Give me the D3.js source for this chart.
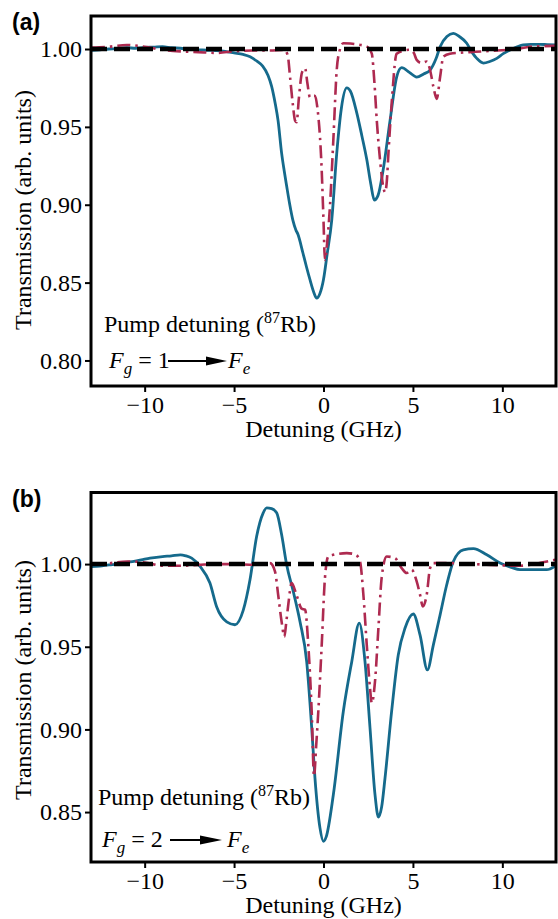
<!DOCTYPE html>
<html>
<head>
<meta charset="utf-8">
<script src="https://cdn.jsdelivr.net/npm/d3@7"></script>
</head>
<body style="margin:0;background:#fff">
<svg id="chart" width="558" height="919" style="display:block"></svg>
<script>
// ---------------- DATA ----------------
const xTicks = [-10, -5, 0, 5, 10];
const aYTicks = [0.80, 0.85, 0.90, 0.95, 1.00];
const bYTicks = [0.85, 0.90, 0.95, 1.00];
const referenceLevel = [1.00];

// Panel (a): Fg = 1 -> Fe
const aBlueX = [-12.95,-12.5,-12,-11.5,-11,-10.5,-10,-9.5,-9,-8.5,-8,-7.5,-7,-6.5,-6,-5.5,-5.0,-4.5,-4.1,-3.7,-3.4,-3.1,-2.9,-2.7,-2.54,-2.34,-2.2,-2.06,-1.9,-1.71,-1.55,-1.43,-1.15,-0.95,-0.76,-0.55,-0.38,-0.2,0.0,0.2,0.46,0.74,1.0,1.3,1.5,1.86,2.15,2.42,2.65,2.84,3.05,3.33,3.72,4.09,4.37,4.8,5.21,5.6,5.96,6.3,6.52,6.9,7.26,7.6,8.01,8.3,8.57,8.94,9.3,9.69,10.05,10.43,10.8,11.17,11.6,12.11,12.5,12.95];
const aBlueY = [0.9992,0.9995,1.0000,1.0003,1.0008,1.0005,1.0010,1.0012,1.0015,1.0008,1.0005,0.9998,0.9995,0.9992,0.9990,0.9985,0.9975,0.9965,0.9950,0.9920,0.9890,0.9830,0.9760,0.9650,0.9540,0.9330,0.9220,0.9120,0.9010,0.8900,0.8840,0.8810,0.8690,0.8600,0.8520,0.8440,0.8400,0.8430,0.8520,0.8680,0.8900,0.9330,0.9620,0.9750,0.9730,0.9590,0.9440,0.9290,0.9130,0.9030,0.9060,0.9220,0.9540,0.9820,0.9880,0.9850,0.9820,0.9840,0.9865,0.9940,1.0015,1.0080,1.0100,1.0080,1.0037,0.9980,0.9940,0.9910,0.9920,0.9940,0.9970,0.9994,1.0012,1.0026,1.0030,1.0030,1.0028,1.0026];
const aRedX = [-12.95,-12,-11,-10,-9,-8,-7,-6,-5,-4,-3,-2.2,-2.0,-1.87,-1.72,-1.59,-1.5,-1.38,-1.2,-1.03,-0.9,-0.76,-0.6,-0.48,-0.35,-0.1,0.0,0.08,0.2,0.36,0.55,0.74,0.9,1.11,1.5,1.86,2.42,2.70,2.85,2.98,3.16,3.34,3.44,3.54,3.63,3.81,4.09,4.46,4.84,5.05,5.21,5.49,5.77,5.96,6.14,6.33,6.52,6.70,7.07,8.19,9.69,10.8,11.55,12.95];
const aRedY = [1.0010,1.0015,1.0026,1.0015,0.9995,0.9985,0.9980,0.9975,0.9985,0.9990,0.9990,0.9994,0.9960,0.9820,0.9650,0.9540,0.9530,0.9680,0.9850,0.9876,0.9780,0.9690,0.9700,0.9700,0.9630,0.9220,0.8900,0.8645,0.8750,0.8990,0.9416,0.9865,0.9990,1.0037,1.0035,1.0030,1.0015,0.9970,0.9780,0.9540,0.9290,0.9116,0.9080,0.9150,0.9330,0.9650,0.9970,0.9989,0.9995,0.9975,0.9930,0.9910,0.9920,0.9865,0.9760,0.9680,0.9820,0.9950,0.9970,0.9980,0.9990,1.0000,1.0015,1.0020];

// Panel (b): Fg = 2 -> Fe
const bBlueX = [-12.95,-12.5,-12,-11.5,-11,-10.6,-10,-9.7,-9,-8.5,-8.0,-7.7,-7.37,-6.9,-6.35,-5.97,-5.41,-4.95,-4.49,-4.11,-3.74,-3.37,-3.18,-2.9,-2.62,-2.34,-2.06,-1.69,-1.31,-0.94,-0.66,-0.48,-0.2,0.0,0.15,0.55,1.11,1.58,2.0,2.32,2.6,2.88,3.07,3.25,3.44,3.81,4.18,4.56,5.02,5.40,5.81,6.14,6.52,6.89,7.26,7.82,8.38,9.13,9.87,10.5,10.99,11.73,12.48,12.95];
const bBlueY = [0.9985,0.9988,0.9995,1.0000,1.0010,1.0016,1.0030,1.0036,1.0045,1.0050,1.0056,1.0050,1.0036,0.9986,0.9885,0.9740,0.9650,0.9633,0.9720,0.9905,1.0167,1.0310,1.0340,1.0335,1.0310,1.0177,0.9996,0.9834,0.9650,0.9410,0.9010,0.8710,0.8406,0.8323,0.8350,0.8605,0.9110,0.9410,0.9643,0.9410,0.9010,0.8605,0.8470,0.8530,0.8706,0.9110,0.9450,0.9613,0.9698,0.9570,0.9360,0.9510,0.9693,0.9875,1.0016,1.0086,1.0093,1.0056,1.0006,0.9980,0.9966,0.9966,0.9966,0.9986];
const bRedX = [-12.95,-12,-11,-10,-9,-8,-7,-6,-5,-3.93,-2.99,-2.71,-2.53,-2.34,-2.19,-2.08,-1.97,-1.78,-1.5,-1.22,-1.03,-0.85,-0.66,-0.53,-0.41,-0.29,-0.1,0.08,0.27,0.55,1.3,1.76,2.04,2.23,2.42,2.6,2.70,2.88,3.07,3.25,3.53,4.0,4.37,4.65,4.93,5.21,5.40,5.55,5.77,5.96,6.14,7.26,9.1,11,12.5,12.95];
const bRedY = [1.0000,1.0005,1.0016,1.0010,0.9990,0.9990,0.9995,1.0000,1.0000,0.9996,1.0006,0.9955,0.9810,0.9650,0.9560,0.9650,0.9754,0.9885,0.9810,0.9730,0.9724,0.9510,0.9110,0.8716,0.8900,0.9110,0.9510,0.9915,1.0046,1.0056,1.0066,1.0060,1.0016,0.9814,0.9510,0.9250,0.9160,0.9290,0.9613,0.9915,1.0046,1.0036,0.9976,0.9946,0.9966,0.9895,0.9814,0.9744,0.9814,0.9976,1.0006,1.0006,0.9996,0.9990,1.0016,1.0026];

// ---------------- STYLE / LAYOUT ----------------
const BLUE = "#156a8c";
const RED = "#ae2a50";
const SERIF = '"Liberation Serif"';
const SANS = '"Liberation Sans"';
const svg = d3.select("#chart");

const panels = [
  { id: "a", label: "(a)", labelY: 30, top: 16, bottom: 386, yDomain: [0.7836, 1.0212], yTicks: aYTicks,
    blueX: aBlueX, blueY: aBlueY, redX: aRedX, redY: aRedY, yLabelCenter: 210,
    pumpX: 104, pumpY: 332, fX: 109, fY: 368, fNum: "1", arrow: [168, 206, 227], feX: 228 },
  { id: "b", label: "(b)", labelY: 507, top: 492.5, bottom: 862, yDomain: [0.8198, 1.0433], yTicks: bYTicks,
    blueX: bBlueX, blueY: bBlueY, redX: bRedX, redY: bRedY, yLabelCenter: 680,
    pumpX: 98, pumpY: 805, fX: 102, fY: 847, fNum: "2", arrow: [170, 200, 222], feX: 227 }
];

const left = 91, right = 556;
const x = d3.scaleLinear().domain([-13, 13]).range([left, right]);

function serifText(sel, size) {
  return sel.style("font-family", SERIF).style("font-size", size + "px").attr("fill", "#000");
}

panels.forEach(p => {
  const y = d3.scaleLinear().domain(p.yDomain).range([p.bottom, p.top]);
  const g = svg.append("g");

  g.append("clipPath").attr("id", "clip-" + p.id)
    .append("rect").attr("x", left).attr("y", p.top).attr("width", right - left).attr("height", p.bottom - p.top);

  const plot = g.append("g").attr("clip-path", `url(#clip-${p.id})`);
  const line = d3.line().x(d => x(d[0])).y(d => y(d[1])).curve(d3.curveMonotoneX);

  plot.append("path")
    .attr("d", line(d3.zip(p.blueX, p.blueY)))
    .attr("fill", "none").attr("stroke", BLUE).attr("stroke-width", 2.8)
    .attr("stroke-linejoin", "round");

  plot.append("path")
    .attr("d", line(d3.zip(p.redX, p.redY)))
    .attr("fill", "none").attr("stroke", RED).attr("stroke-width", 2.6)
    .attr("stroke-dasharray", "13,5,2.5,5");

  plot.selectAll(".ref").data(referenceLevel).join("line")
    .attr("x1", left).attr("x2", right)
    .attr("y1", d => y(d)).attr("y2", d => y(d))
    .attr("stroke", "#000").attr("stroke-width", 4.5)
    .attr("stroke-dasharray", "16,7");

  const xAxis = d3.axisBottom(x).tickValues(xTicks).tickSize(6).tickPadding(4).tickFormat(d3.format("d"));
  const gx = g.append("g").attr("transform", `translate(0,${p.bottom})`).call(xAxis);
  const yAxis = d3.axisLeft(y).tickValues(p.yTicks).tickSize(6).tickPadding(3).tickFormat(d3.format(".2f"));
  const gy = g.append("g").attr("transform", `translate(${left},0)`).call(yAxis);
  [gx, gy].forEach(ax => {
    ax.attr("font-family", null).attr("font-size", null);
    ax.select(".domain").remove();
    ax.selectAll(".tick line").attr("stroke", "#000").attr("stroke-width", 2);
    serifText(ax.selectAll(".tick text"), 24);
  });

  g.append("rect").attr("x", left).attr("y", p.top).attr("width", right - left).attr("height", p.bottom - p.top)
    .attr("fill", "none").attr("stroke", "#000").attr("stroke-width", 3);

  serifText(g.append("text"), 24).attr("transform", `translate(31,${p.yLabelCenter}) rotate(-90)`)
    .attr("text-anchor", "middle").text("Transmission (arb. units)");
  serifText(g.append("text"), 24).attr("x", x(0)).attr("y", p.bottom + 51)
    .attr("text-anchor", "middle").text("Detuning (GHz)");

  g.append("text").attr("x", 12).attr("y", p.labelY)
    .style("font-family", SANS).style("font-weight", "bold").style("font-size", "23px")
    .text(p.label);

  const pt = serifText(g.append("text"), 24).attr("x", p.pumpX).attr("y", p.pumpY);
  pt.append("tspan").text("Pump detuning (");
  pt.append("tspan").attr("dy", -9).style("font-size", "16px").text("87");
  pt.append("tspan").attr("dy", 9).text("Rb)");

  const ft = serifText(g.append("text"), 24).attr("x", p.fX).attr("y", p.fY);
  ft.append("tspan").style("font-style", "italic").text("F");
  ft.append("tspan").style("font-style", "italic").style("font-size", "17px").attr("dy", 6).text("g");
  ft.append("tspan").attr("dy", -6).text(" = " + p.fNum);

  const ay = p.fY - 7;
  g.append("line").attr("x1", p.arrow[0]).attr("x2", p.arrow[1] + 4).attr("y1", ay).attr("y2", ay)
    .attr("stroke", "#000").attr("stroke-width", 2);
  g.append("path")
    .attr("d", `M${p.arrow[1]},${ay - 4.5}L${p.arrow[2]},${ay}L${p.arrow[1]},${ay + 4.5}Z`)
    .attr("fill", "#000");

  const fe = serifText(g.append("text"), 24).attr("x", p.feX).attr("y", p.fY);
  fe.append("tspan").style("font-style", "italic").text("F");
  fe.append("tspan").style("font-style", "italic").style("font-size", "17px").attr("dy", 6).text("e");
});
</script>
</body>
</html>
